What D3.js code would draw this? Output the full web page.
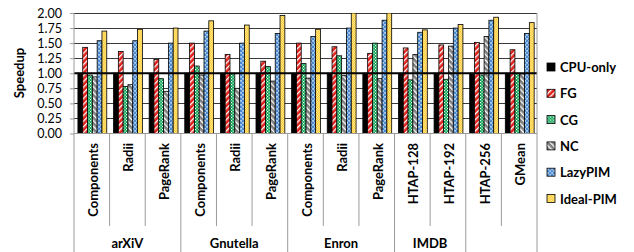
<!DOCTYPE html>
<html><head><meta charset="utf-8">
<script src="https://cdn.jsdelivr.net/npm/d3@7"></script>
<style>
body{margin:0;background:#fff;}
svg{display:block;font-family:Lato,"Open Sans",sans-serif;}
</style></head>
<body><svg id="c" width="634" height="252"></svg>
<script>
const categories = ["Components","Radii","PageRank","Components","Radii","PageRank","Components","Radii","PageRank","HTAP-128","HTAP-192","HTAP-256","GMean"];
const groupLabels = ["arXiV","Gnutella","Enron","IMDB",""];
const groupSizes = [3,3,3,2,2];
const seriesNames = ["CPU-only","FG","CG","NC","LazyPIM","Ideal-PIM"];
const cpuOnly = [1,1,1,1,1,1,1,1,1,1,1,1,1];
const fg     = [1.43,1.36,1.23,1.50,1.31,1.20,1.50,1.44,1.33,1.42,1.47,1.51,1.39];
const cg     = [0.97,0.78,0.91,1.12,0.99,1.11,1.16,1.29,1.50,0.89,0.90,0.97,1.00];
const nc     = [0.94,0.81,0.70,0.97,0.75,0.87,0.92,0.96,0.91,1.31,1.45,1.61,0.99];
const lazyPIM  = [1.54,1.54,1.50,1.70,1.50,1.66,1.61,1.75,1.88,1.68,1.75,1.88,1.66];
const idealPIM = [1.70,1.73,1.75,1.87,1.80,1.96,1.73,2.00,2.00,1.72,1.81,1.93,1.84];
const yTicks = [0,0.25,0.5,0.75,1,1.25,1.5,1.75,2];

const seriesValues = [cpuOnly, fg, cg, nc, lazyPIM, idealPIM];
const svg = d3.select("#c");
const L = 74, R = 537, T = 13, B = 133.5;

// patterns
const defs = svg.append("defs");
function stripe(id, base, angle){
  const p = defs.append("pattern").attr("id",id).attr("patternUnits","userSpaceOnUse")
    .attr("width",4).attr("height",4).attr("patternTransform",`rotate(${angle})`);
  p.append("rect").attr("width",4).attr("height",4).attr("fill",base);
  p.append("rect").attr("width",1.3).attr("height",4).attr("fill","#fff");
}
stripe("pFG","#e0201a",45);
stripe("pNC","#7f7f7f",-45);
(function(){
  const p = defs.append("pattern").attr("id","pCG").attr("patternUnits","userSpaceOnUse").attr("width",3).attr("height",3);
  p.append("rect").attr("width",3).attr("height",3).attr("fill","#00a04c");
  p.append("rect").attr("x",0).attr("y",0).attr("width",1.2).attr("height",1.2).attr("fill","#fff");
  p.append("rect").attr("x",1.5).attr("y",1.5).attr("width",1.2).attr("height",1.2).attr("fill","#fff");
})();
(function(){
  const p = defs.append("pattern").attr("id","pLZ").attr("patternUnits","userSpaceOnUse").attr("width",4).attr("height",4);
  p.append("rect").attr("width",4).attr("height",4).attr("fill","#4a8ad0");
  p.append("rect").attr("x",0.5).attr("y",0).attr("width",1.1).attr("height",1.7).attr("fill","#fff");
  p.append("rect").attr("x",2.5).attr("y",2).attr("width",1.1).attr("height",1.7).attr("fill","#fff");
})();
(function(){
  const p = defs.append("pattern").attr("id","pID").attr("patternUnits","userSpaceOnUse").attr("width",2.4).attr("height",2.4);
  p.append("rect").attr("width",2.4).attr("height",2.4).attr("fill","#ffc000");
  p.append("rect").attr("x",0).attr("y",0).attr("width",1.2).attr("height",1.2).attr("fill","#fff3c0");
  p.append("rect").attr("x",1.2).attr("y",1.2).attr("width",1.2).attr("height",1.2).attr("fill","#fff3c0");
})();
const fills = ["#000","url(#pFG)","url(#pCG)","url(#pNC)","url(#pLZ)","url(#pID)"];

const x = d3.scaleBand().domain(d3.range(categories.length)).range([L,R]).padding(0);
const bw = x.bandwidth();
const xi = d3.scaleBand().domain(d3.range(seriesNames.length)).range([bw*0.11, bw*0.92]).padding(0);
const y = d3.scaleLinear().domain([0,2]).range([B,T]);

defs.append("clipPath").attr("id","plot").append("rect").attr("x",L).attr("y",T).attr("width",R-L).attr("height",B-T);

// gridlines
svg.append("g").selectAll("line").data(yTicks.filter(d=>d>0)).join("line")
  .attr("x1",L).attr("x2",R).attr("y1",d=>Math.round(y(d))+0.5).attr("y2",d=>Math.round(y(d))+0.5)
  .attr("stroke","#3a3a3a").attr("stroke-width",1);

// y axis
const yAxis = d3.axisLeft(y).tickValues(yTicks).tickFormat(d3.format(".2f")).tickSize(4).tickPadding(8);
const ya = svg.append("g").attr("transform",`translate(${L},0)`).call(yAxis);
ya.select(".domain").remove();
ya.selectAll(".tick line").attr("stroke","#9a9a9a");
ya.selectAll("text").attr("font-size",12.5).attr("fill","#000").attr("font-family","Lato");

// bars
const bars = svg.append("g").attr("clip-path","url(#plot)");
seriesValues.forEach((vals,s)=>{
  bars.append("g").selectAll("rect").data(vals).join("rect")
    .attr("x",(d,i)=>x(i)+xi(s))
    .attr("width",xi.bandwidth())
    .attr("y",d=>y(d))
    .attr("height",d=>B-y(d))
    .attr("fill",fills[s])
    .attr("stroke","#000").attr("stroke-width",0.8);
});

// 1.0 reference line
svg.append("line").attr("x1",L).attr("x2",R).attr("y1",y(1)).attr("y2",y(1)).attr("stroke","#000").attr("stroke-width",2);

// axis lines
svg.append("line").attr("x1",L).attr("x2",R).attr("y1",B).attr("y2",B).attr("stroke","#9a9a9a");
// category dividers
const groupStarts = [];
let acc=0; groupSizes.forEach(n=>{groupStarts.push(acc); acc+=n;}); groupStarts.push(acc);
const bounds = d3.range(categories.length+1);
svg.append("g").selectAll("line").data(bounds).join("line")
  .attr("x1",i=>i<categories.length? x(i):R).attr("x2",i=>i<categories.length? x(i):R)
  .attr("y1",i=> (i===0||i===categories.length)? T : B)
  .attr("y2",i=> groupStarts.includes(i)? 252 : 226)
  .attr("stroke","#9a9a9a").attr("stroke-width",1);

// category labels
svg.append("g").selectAll("text").data(categories).join("text")
  .attr("transform",(d,i)=>`translate(${x(i)+bw/2+1},143) rotate(-90)`)
  .attr("text-anchor","end").attr("dominant-baseline","central")
  .attr("font-size",13).attr("font-weight","bold").text(d=>d);

// group labels
svg.append("g").selectAll("text").data(groupLabels).join("text")
  .attr("x",(d,i)=>(x(groupStarts[i]) + (groupStarts[i+1]<categories.length? x(groupStarts[i+1]) : R))/2)
  .attr("y",248).attr("text-anchor","middle")
  .attr("font-size",13).attr("font-weight","bold").text(d=>d);

// y title
svg.append("text").attr("transform","translate(19,73) rotate(-90)")
  .attr("text-anchor","middle").attr("dominant-baseline","central")
  .attr("font-size",13).attr("font-weight","bold").text("Speedup");

// legend
const lg = svg.append("g").attr("transform","translate(547,67)");
const li = lg.selectAll("g").data(seriesNames).join("g").attr("transform",(d,i)=>`translate(0,${i*26.3})`);
li.append("rect").attr("x",0).attr("y",-4).attr("width",8).attr("height",8)
  .attr("fill",(d,i)=>fills[i]).attr("stroke","#000").attr("stroke-width",0.8);
li.append("text").attr("x",13).attr("y",0).attr("dominant-baseline","central")
  .attr("font-size",13).attr("font-weight","bold").text(d=>d);
</script></body></html>
